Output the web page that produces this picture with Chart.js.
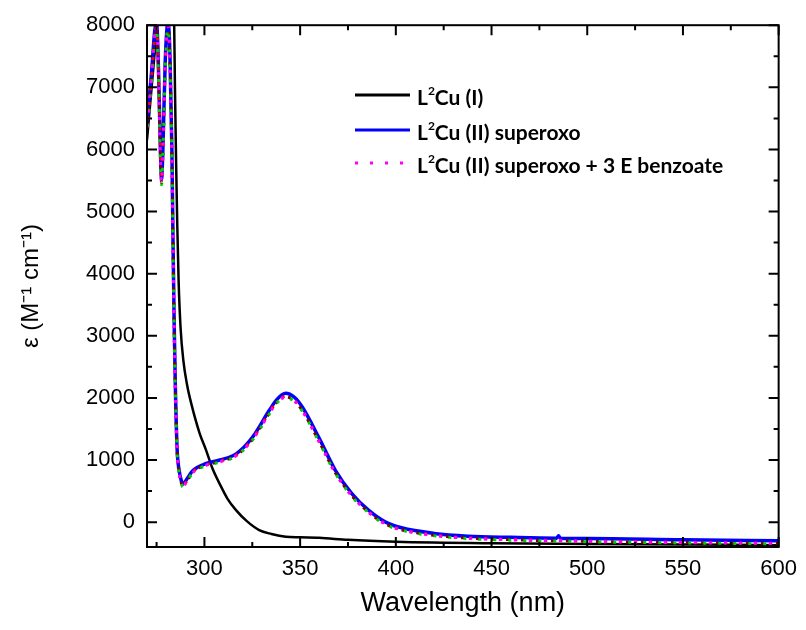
<!DOCTYPE html>
<html>
<head>
<meta charset="utf-8">
<script src="https://cdn.jsdelivr.net/npm/chart.js@4.4.1/dist/chart.umd.min.js"></script>
<style>
  body { margin: 0; background: #fff; }
  #wrap { width: 806px; height: 630px; }
</style>
</head>
<body>
<div id="wrap"><canvas id="spectra"></canvas></div>
<script>
// Wavelength grid (nm) shared by the superoxo traces
const wavelengths = [270, 272.4, 274, 275, 276, 277, 277.6, 278.3, 279.5, 281, 282, 283, 283.6, 284.2, 284.8, 285.7, 286.8, 288, 288.8, 290.5, 294, 301, 308, 316.6, 325.2, 333.9, 338, 342.5, 347, 351.2, 359.8, 368.4, 377, 385.7, 394.4, 403, 420, 437.6, 460, 484, 485, 486, 500, 550, 600];

// L2Cu(II) superoxo (blue)
const superoxo = [6450, 7250, 7900, 8050, 7300, 6000, 5520, 6000, 7400, 8050, 7500, 6000, 4500, 3200, 2200, 1200, 830, 660, 610, 680, 830, 945, 1000, 1100, 1370, 1800, 1980, 2075, 2010, 1850, 1360, 835, 460, 193, 5, -91, -181, -225, -245, -258, -220, -258, -265, -285, -300];

// superoxo + 3 E benzoate, several overlaid dotted runs
const benzoateMagenta = [6350, 7200, 7850, 8000, 7200, 5900, 5450, 5900, 7300, 8000, 7400, 5900, 4400, 3100, 2150, 1150, 790, 620, 570, 640, 800, 915, 970, 1070, 1330, 1750, 1930, 2010, 1950, 1790, 1300, 790, 420, 160, -30, -125, -215, -260, -285, -300, -300, -300, -310, -330, -345];
const benzoateRed = [6300, 7150, 7800, 7980, 7250, 5950, 5480, 5950, 7350, 7990, 7450, 5950, 4450, 3150, 2170, 1170, 800, 630, 580, 650, 810, 925, 980, 1080, 1345, 1765, 1945, 2025, 1960, 1800, 1310, 800, 430, 168, -22, -118, -208, -252, -278, -295, -290, -295, -305, -325, -340];
const benzoateGreen = [6250, 7100, 7750, 7950, 7150, 5850, 5430, 5880, 7280, 7960, 7380, 5880, 4380, 3080, 2130, 1140, 780, 615, 565, 635, 795, 910, 965, 1065, 1325, 1740, 1925, 2000, 1945, 1785, 1295, 785, 415, 155, -35, -130, -220, -265, -290, -305, -305, -305, -315, -335, -350];
const benzoateMaroon = [6320, 7180, 7820, 7990, 7220, 5920, 5460, 5920, 7320, 7980, 7420, 5920, 4420, 3120, 2160, 1160, 795, 625, 575, 645, 805, 920, 975, 1075, 1338, 1758, 1938, 2018, 1955, 1795, 1305, 795, 425, 164, -26, -122, -212, -256, -282, -298, -296, -298, -308, -328, -342];

// L2Cu(I) (black) has its own sampling
const cuIWavelengths = [270, 272, 274, 275.5, 277, 279, 281, 283, 284.2, 284.6, 285.2, 285.8, 286.5, 287.5, 289, 291, 293.2, 297.5, 300.9, 304, 307.9, 312, 316.5, 322, 328.6, 335, 342.5, 350, 360, 375, 400, 450, 500, 550, 600];
const cuI = [6150, 6850, 7550, 8050, 8300, 8200, 8400, 8600, 8000, 7000, 5800, 4800, 3900, 3150, 2600, 2200, 1900, 1430, 1156, 880, 621, 380, 193, 20, -128, -190, -236, -245, -252, -285, -315, -340, -350, -360, -370];

const seriesLabels = ['L²Cu (I)', 'L²Cu (II) superoxo', 'L²Cu (II) superoxo + 3 E benzoate'];

const xTickValues = [300, 350, 400, 450, 500, 550, 600];
const xMinorValues = [275, 325, 375, 425, 475, 525, 575];
const yTickValues = [0, 1000, 2000, 3000, 4000, 5000, 6000, 7000, 8000];
const yMinorValues = [500, 1500, 2500, 3500, 4500, 5500, 6500, 7500];

const AXIS_FONT = "'Liberation Sans', Arial, sans-serif";
const LEGEND_FONT = "Lato, 'Open Sans', sans-serif";

function toPoints(xs, ys) {
    return xs.map((x, i) => ({ x: x, y: ys[i] }));
}

function dotted(label, color, values, offset) {
    return {
        label: label,
        data: toPoints(wavelengths, values),
        borderColor: color,
        borderWidth: 3,
        borderDash: [3, 12],
        borderDashOffset: offset,
        pointRadius: 0,
        cubicInterpolationMode: 'monotone'
    };
}

// frame and inward tick marks on all four sides
const frameTicks = {
    id: 'frameTicks',
    afterDatasetsDraw(chart) {
        const { ctx, chartArea: a, scales: { x, y } } = chart;
        ctx.save();
        ctx.strokeStyle = '#000';
        ctx.lineWidth = 2;
        ctx.strokeRect(a.left, a.top, a.right - a.left, a.bottom - a.top);
        const markX = (vals, len) => {
            ctx.beginPath();
            vals.forEach(v => {
                const px = x.getPixelForValue(v);
                ctx.moveTo(px, a.bottom); ctx.lineTo(px, a.bottom - len);
                ctx.moveTo(px, a.top); ctx.lineTo(px, a.top + len);
            });
            ctx.stroke();
        };
        const markY = (vals, len) => {
            ctx.beginPath();
            vals.forEach(v => {
                const py = y.getPixelForValue(v);
                ctx.moveTo(a.left, py); ctx.lineTo(a.left + len, py);
                ctx.moveTo(a.right, py); ctx.lineTo(a.right - len, py);
            });
            ctx.stroke();
        };
        markX(xTickValues, 10);
        markX(xMinorValues, 5);
        markY(yTickValues, 10);
        markY(yMinorValues, 5);
        ctx.restore();
    }
};

// legend drawn inside the plot, with a raised "2"
const innerLegend = {
    id: 'innerLegend',
    afterDatasetsDraw(chart) {
        const ctx = chart.ctx;
        const styles = [
            { color: '#000000', dash: [] },
            { color: '#0000ff', dash: [] },
            { color: '#ff00ff', dash: [3, 12] }
        ];
        const rowY = [95, 130, 163];
        ctx.save();
        seriesLabels.forEach((label, i) => {
            const y = rowY[i];
            ctx.strokeStyle = styles[i].color;
            ctx.lineWidth = 3;
            ctx.setLineDash(styles[i].dash);
            ctx.beginPath();
            ctx.moveTo(355, y);
            ctx.lineTo(410, y);
            ctx.stroke();
            ctx.setLineDash([]);

            ctx.fillStyle = '#000';
            ctx.textBaseline = 'alphabetic';
            const parts = label.split('²');
            let x = 417;
            const base = y + 10;
            ctx.font = 'bold 21px ' + LEGEND_FONT;
            ctx.fillText(parts[0], x, base);
            x += ctx.measureText(parts[0]).width;
            ctx.font = 'bold 12px ' + LEGEND_FONT;
            ctx.fillText('2', x, base - 10);
            x += ctx.measureText('2').width;
            ctx.font = 'bold 21px ' + LEGEND_FONT;
            ctx.fillText(parts[1], x, base);
        });
        ctx.restore();
    }
};

const ctx = document.getElementById('spectra').getContext('2d');
const spectraChart = new Chart(ctx, {
    type: 'line',
    data: {
        datasets: [
            dotted(seriesLabels[2], '#ff00ff', benzoateMagenta, 0),
            dotted('benzoate run 2', '#ff0000', benzoateRed, 4),
            dotted('benzoate run 3', '#00cc00', benzoateGreen, 8),
            dotted('benzoate run 4', '#800000', benzoateMaroon, 11),
            {
                label: seriesLabels[1],
                data: toPoints(wavelengths, superoxo),
                borderColor: '#0000ff',
                borderWidth: 3.5,
                pointRadius: 0,
                cubicInterpolationMode: 'monotone'
            },
            {
                label: seriesLabels[0],
                data: toPoints(cuIWavelengths, cuI),
                borderColor: '#000000',
                borderWidth: 2.5,
                pointRadius: 0,
                cubicInterpolationMode: 'monotone'
            }
        ]
    },
    options: {
        responsive: true,
        maintainAspectRatio: false,
        animation: false,
        layout: { padding: { top: 23, right: 23, left: 0, bottom: 0 } },
        plugins: {
            legend: { display: false },
            tooltip: { enabled: false }
        },
        scales: {
            x: {
                type: 'linear',
                min: 270,
                max: 600,
                grid: { display: false, drawTicks: false },
                border: { display: false },
                afterBuildTicks: scale => { scale.ticks = xTickValues.map(v => ({ value: v })); },
                afterFit: scale => { scale.height = 83; },
                ticks: {
                    padding: 9,
                    color: '#000',
                    maxRotation: 0,
                    callback: v => String(v),
                    font: { family: AXIS_FONT, size: 22 }
                },
                title: {
                    display: true,
                    text: 'Wavelength (nm)',
                    color: '#000',
                    font: { family: AXIS_FONT, size: 27 },
                    padding: { top: 0, bottom: 10 }
                }
            },
            y: {
                min: -400,
                max: 8000,
                grid: { display: false, drawTicks: false },
                border: { display: false },
                afterBuildTicks: scale => { scale.ticks = yTickValues.map(v => ({ value: v })); },
                afterFit: scale => { scale.width = 147; },
                ticks: {
                    padding: 12,
                    color: '#000',
                    callback: v => String(v),
                    font: { family: AXIS_FONT, size: 22 }
                },
                title: {
                    display: true,
                    text: 'ε (M⁻¹ cm⁻¹)',
                    color: '#000',
                    font: { family: AXIS_FONT, size: 24 },
                    padding: { top: 17, bottom: 0 }
                }
            }
        }
    },
    plugins: [frameTicks, innerLegend]
});
</script>
</body>
</html>
